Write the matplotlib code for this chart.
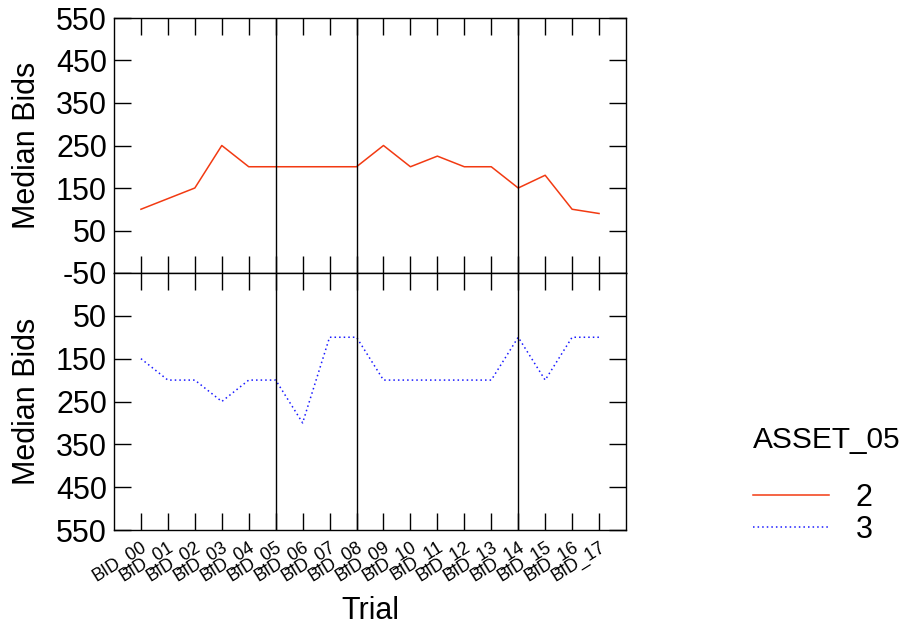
import matplotlib
matplotlib.use("Agg")
import matplotlib.pyplot as plt
from matplotlib.lines import Line2D

plt.rcParams['font.family'] = ['Liberation Sans', 'DejaVu Sans']
plt.rcParams['axes.unicode_minus'] = False

trials = ["BID_00", "BID_01", "BID_02", "BID_03", "BID_04", "BID_05",
          "BID_06", "BID_07", "BID_08", "BID_09", "BID_10", "BID_11",
          "BID_12", "BID_13", "BID_14", "BID_15", "BID_16", "BID_17"]
asset2 = [100, 125, 150, 250, 200, 200, 200, 200, 200, 250, 200, 225,
          200, 200, 150, 180, 100, 90]
asset3 = [150, 200, 200, 250, 200, 200, 300, 100, 100, 200, 200, 200,
          200, 200, 100, 200, 100, 100]
vlines = [5, 8, 14]
yticks_top = [-50, 50, 150, 250, 350, 450, 550]
yticks_bot = [50, 150, 250, 350, 450, 550]

red = "#f23a12"
blue = "#1a1aff"

W, H = 910, 630
fig = plt.figure(figsize=(W / 100, H / 100), dpi=100)
ax1 = fig.add_axes([114 / W, 1 - 273 / H, 512 / W, 255 / H])
ax2 = fig.add_axes([114 / W, 1 - 530 / H, 512 / W, 257 / H])

x = list(range(len(trials)))
ax1.plot(x, asset2, color=red, lw=1.1)
ax2.plot(x, asset3, color=blue, lw=1.1, ls=(0, (1, 2)))

for ax in (ax1, ax2):
    ax.set_xlim(-1, 18)
    ax.set_xticks(x)
    for v in vlines:
        ax.axvline(v, color="black", lw=1)
    ax.tick_params(direction="in", length=12, width=1, top=True, right=True,
                   labelsize=22, pad=5)
    for s in ax.spines.values():
        s.set_linewidth(1)
    ax.set_ylabel("Median Bids", fontsize=22, labelpad=10)

ax1.set_ylim(-50, 550)
ax1.set_yticks(yticks_top)
ax1.tick_params(labelbottom=False)

ax2.set_ylim(550, -50)
ax2.set_yticks(yticks_bot)
ax2.set_xticklabels(trials, rotation=32, ha="right", rotation_mode="anchor",
                    fontsize=13)
ax2.tick_params(axis="x", pad=6)
ax2.set_xlabel("Trial", fontsize=22, labelpad=8)

handles = [Line2D([], [], color=red, lw=1.1),
           Line2D([], [], color=blue, lw=1.1, ls=(0, (1, 2)))]
leg = fig.legend(handles, ["2", "3"], title="ASSET_05", frameon=False,
                 loc="upper left", bbox_to_anchor=(753 / W, 1 - 426 / H),
                 borderaxespad=0, fontsize=22, title_fontsize=21.5,
                 handlelength=2.5, handletextpad=0.85, labelspacing=0.05,
                 borderpad=0)
leg._legend_box.align = "left"
leg._legend_box.sep = 21

fig.savefig("out.png", dpi=100)
